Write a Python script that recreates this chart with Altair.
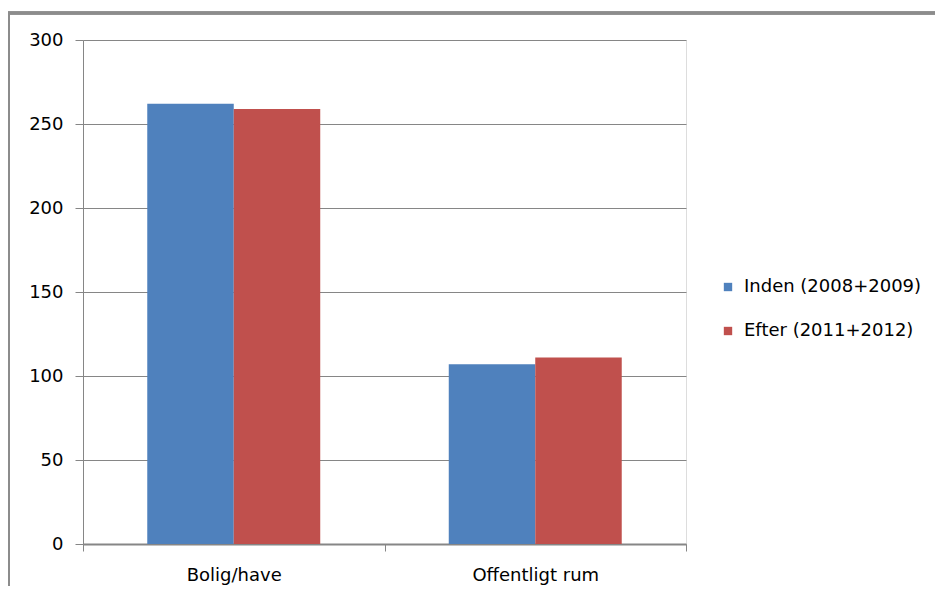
import altair as alt
import pandas as pd

categories = ["Bolig/have", "Offentligt rum"]
inden = [262, 107]
efter = [259, 111]
series_names = ["Inden (2008+2009)", "Efter (2011+2012)"]
colors = ["#4F81BD", "#C0504D"]
y_ticks = [0, 50, 100, 150, 200, 250, 300]

rows = []
for i, c in enumerate(categories):
    rows.append({"kategori": c, "serie": series_names[0], "vaerdi": inden[i]})
    rows.append({"kategori": c, "serie": series_names[1], "vaerdi": efter[i]})
df = pd.DataFrame(rows)

FONT = "DejaVu Sans"
GRID = "#868686"

bars = alt.Chart(df).mark_bar().encode(
    x=alt.X("kategori:N", sort=categories, title=None,
            scale=alt.Scale(paddingInner=0, paddingOuter=0),
            axis=alt.Axis(labelAngle=0, tickBand="extent", tickSize=7,
                          tickColor=GRID, domainColor=GRID, domainWidth=2,
                          labelPadding=15, labelFontSize=18, labelFont=FONT,
                          labelColor="#000000", grid=False)),
    xOffset=alt.XOffset("serie:N", sort=series_names,
                        scale=alt.Scale(paddingInner=0, paddingOuter=0.743)),
    y=alt.Y("vaerdi:Q", title=None,
            scale=alt.Scale(domain=[0, 300], nice=False),
            axis=alt.Axis(values=y_ticks, tickSize=8, tickColor=GRID,
                          domainColor=GRID, gridColor=GRID, gridWidth=1,
                          labelPadding=12, labelFontSize=18, labelFont=FONT,
                          labelColor="#000000")),
    color=alt.Color("serie:N", sort=series_names,
                    scale=alt.Scale(domain=series_names, range=colors),
                    legend=alt.Legend(title=None, orient="none", legendX=636,
                                      legendY=238, symbolType="square",
                                      symbolSize=70, symbolStrokeWidth=0,
                                      labelFontSize=18, labelFont=FONT,
                                      labelColor="#000000", labelOffset=7,
                                      labelLimit=400, rowPadding=26)),
)

frame_top = alt.Chart(df).mark_rule(color="#8c8c8c", strokeWidth=3).encode(
    x=alt.value(-75), x2=alt.value(860), y=alt.value(-27)
)
frame_left = alt.Chart(df).mark_rule(color="#8c8c8c", strokeWidth=2).encode(
    x=alt.value(-74), y=alt.value(-27), y2=alt.value(560)
)

chart = alt.layer(frame_top, frame_left, bars).properties(
    width=603, height=504,
    autosize=alt.AutoSizeParams(type="none"),
    padding={"left": 75, "top": 32, "right": 249, "bottom": 42},
).configure_view(stroke=None).configure(background="white")

chart.save("out.html", embed_options={"renderer": "svg", "actions": False})
